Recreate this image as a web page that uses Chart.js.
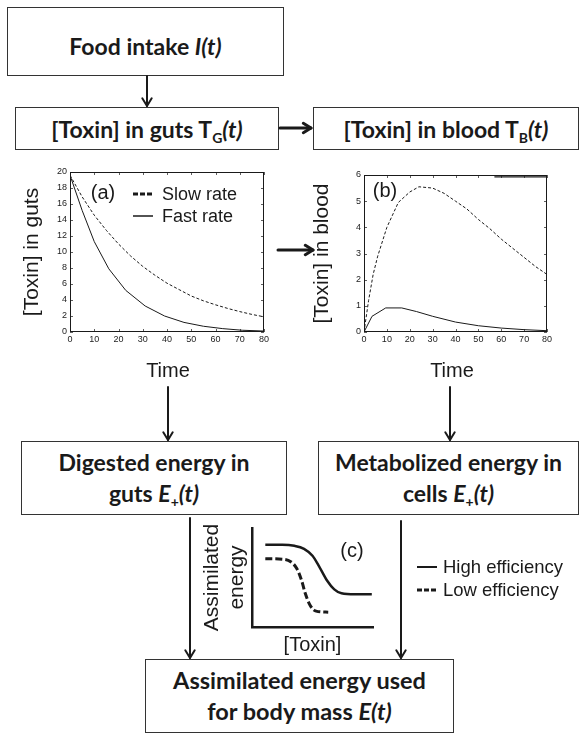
<!DOCTYPE html>
<html><head><meta charset="utf-8">
<script src="https://cdn.jsdelivr.net/npm/chart.js@4.4.0/dist/chart.umd.min.js"></script>
<style>
html,body{margin:0;padding:0;background:#fff;}
body{width:579px;height:733px;position:relative;overflow:hidden;font-family:"Liberation Sans",Arial,sans-serif;color:#1a1a1a;}
.box{position:absolute;border:1.3px solid #333;box-sizing:border-box;display:flex;flex-direction:column;align-items:center;justify-content:center;font-family:Lato,"Open Sans",sans-serif;font-weight:700;font-size:23px;line-height:31px;color:#1a1a1a;text-align:center;white-space:nowrap;}
.box sub{font-size:14px;vertical-align:-5px;line-height:0;font-style:normal;}
.lbl{position:absolute;white-space:nowrap;transform:translate(-50%,-50%);font-family:"Liberation Sans",Arial,sans-serif;color:#1a1a1a;}
.leg{position:absolute;white-space:nowrap;transform:translateY(-50%);font-family:"Liberation Sans",Arial,sans-serif;color:#1a1a1a;}
canvas{position:absolute;}
svg{position:absolute;left:0;top:0;}
</style></head>
<body>
<div class="box" style="left:7px;top:7px;width:277px;height:69px;padding-top:9px;"><span>Food intake <i>I(t)</i></span></div>
<div class="box" style="left:15px;top:107px;width:264px;height:43px;padding-top:2px;"><span>[Toxin] in guts T<sub>G</sub><i>(t)</i></span></div>
<div class="box" style="left:313px;top:107px;width:266px;height:43px;padding-top:2px;"><span>[Toxin] in blood T<sub>B</sub><i>(t)</i></span></div>
<div class="box" style="left:21px;top:441px;width:266px;height:74px;"><span>Digested energy in</span><span>guts <i>E<sub>+</sub>(t)</i></span></div>
<div class="box" style="left:318px;top:441px;width:261px;height:74px;"><span>Metabolized energy in</span><span>cells <i>E<sub>+</sub>(t)</i></span></div>
<div class="box" style="left:145px;top:659px;width:309px;height:74px;font-size:23.5px;"><span>Assimilated energy used</span><span>for body mass <i>E(t)</i></span></div>

<canvas id="ca" width="290" height="200" style="left:0;top:160px;width:290px;height:200px;"></canvas>
<canvas id="cb" width="289" height="200" style="left:290px;top:160px;width:289px;height:200px;"></canvas>
<canvas id="cc" width="220" height="150" style="left:180px;top:510px;width:220px;height:150px;"></canvas>

<div class="lbl" style="left:168px;top:370px;font-size:20px;">Time</div>
<div class="lbl" style="left:452px;top:370px;font-size:20px;">Time</div>
<div class="lbl" style="left:103px;top:192px;font-size:20px;">(a)</div>
<div class="lbl" style="left:385px;top:190px;font-size:20px;">(b)</div>
<div class="lbl" style="left:352px;top:550px;font-size:20px;">(c)</div>
<div class="leg" style="left:162px;top:194px;font-size:18px;">Slow rate</div>
<div class="leg" style="left:162px;top:216px;font-size:18px;">Fast rate</div>
<div class="leg" style="left:443px;top:567px;font-size:18.5px;">High efficiency</div>
<div class="leg" style="left:443px;top:590px;font-size:18.5px;">Low efficiency</div>

<svg width="579" height="733" viewBox="0 0 579 733">
 <g stroke="#1a1a1a" fill="none" stroke-width="2">
  <line x1="133" y1="194" x2="153" y2="194" stroke-width="3" stroke-dasharray="5,2"/>
  <line x1="133" y1="216" x2="153" y2="216" stroke-width="1.5"/>
  <line x1="417" y1="567" x2="437" y2="567" stroke-width="2"/>
  <line x1="417" y1="590" x2="437" y2="590" stroke-width="3" stroke-dasharray="5,2"/>
 </g>
 <g id="arrows" stroke="#1a1a1a" fill="none" stroke-width="2" stroke-linecap="round" stroke-linejoin="round"></g>
</svg>

<script>
// ---------- data ----------
const timeTicks = [0, 10, 20, 30, 40, 50, 60, 70, 80];
const gutsSlowTime = [0, 5, 10, 15, 20, 25, 30, 35, 40, 45, 50, 55, 60, 65, 70, 75, 80];
const gutsSlow = [19.6, 16.9, 14.6, 12.7, 11.0, 9.5, 8.2, 7.1, 6.1, 5.3, 4.5, 3.9, 3.4, 2.95, 2.55, 2.2, 1.9];
const gutsFastTime = [0, 5, 10, 16, 23, 31, 39, 47, 55, 63, 71, 80];
const gutsFast = [19.6, 15.2, 11.3, 7.9, 5.2, 3.25, 2.0, 1.2, 0.72, 0.42, 0.22, 0.12];
const bloodSlowTime = [0, 2, 4, 6, 10, 15, 20, 24, 30, 35, 40, 45, 50, 55, 60, 65, 70, 75, 80];
const bloodSlow = [0, 1.2, 2.2, 2.9, 4.0, 4.95, 5.35, 5.55, 5.5, 5.3, 5.0, 4.7, 4.3, 3.95, 3.55, 3.2, 2.85, 2.5, 2.2];
const bloodFastTime = [0, 3.5, 9.5, 16.5, 23, 30, 40, 50, 60, 70, 80];
const bloodFast = [0, 0.6, 0.92, 0.92, 0.78, 0.6, 0.38, 0.24, 0.15, 0.09, 0.05];
const bloodLegendTime = [57, 80];
const bloodLegend = [5.93, 5.93];
const toxinLevel = [1.1, 2.5, 3.5, 4.3, 5.0, 5.6, 6.2, 6.8, 7.4, 8.5, 9.9];
const energyHigh = [8.3, 8.3, 8.2, 7.9, 7.2, 6.0, 4.7, 3.8, 3.4, 3.3, 3.3];
const toxinLevelLow = [1.1, 2.5, 3.2, 3.7, 4.1, 4.4, 4.8, 5.3, 6.3];
const energyLow = [6.9, 6.85, 6.6, 5.9, 4.7, 3.4, 2.2, 1.6, 1.5];

const pts = (xs, ys) => xs.map((x, i) => ({x, y: ys[i]}));
const INK = '#1a1a1a';

// frame + inward ticks plugin
const framePlugin = {
  id: 'frame',
  afterDraw(chart, args, opts) {
    if (!opts.on) return;
    const {ctx, chartArea: a, scales} = chart;
    ctx.save();
    ctx.strokeStyle = INK; ctx.lineWidth = 1;
    ctx.strokeRect(a.left + 0.5, a.top + 0.5, a.right - a.left - 1, a.bottom - a.top - 1);
    ctx.lineWidth = 0.7;
    ctx.beginPath();
    scales.x.ticks.forEach(t => {
      const px = Math.round(scales.x.getPixelForValue(t.value)) + 0.5;
      ctx.moveTo(px, a.bottom); ctx.lineTo(px, a.bottom - 3);
      ctx.moveTo(px, a.top); ctx.lineTo(px, a.top + 3);
    });
    scales.y.ticks.forEach(t => {
      const py = Math.round(scales.y.getPixelForValue(t.value)) + 0.5;
      ctx.moveTo(a.left, py); ctx.lineTo(a.left + 3, py);
      ctx.moveTo(a.right, py); ctx.lineTo(a.right - 3, py);
    });
    ctx.stroke();
    ctx.restore();
  }
};

function timeChart(id, yMax, yStep, yTitle, pad, axisW, datasets) {
  return new Chart(document.getElementById(id), {
    type: 'line',
    data: {datasets},
    plugins: [framePlugin],
    options: {
      responsive: false, animation: false, devicePixelRatio: 1,
      layout: {padding: pad},
      plugins: {legend: {display: false}, tooltip: {enabled: false}, frame: {on: true}},
      elements: {point: {radius: 0}, line: {tension: 0}},
      scales: {
        x: {type: 'linear', min: 0, max: 80,
            afterBuildTicks: s => { s.ticks = timeTicks.map(v => ({value: v})); },
            grid: {display: false, drawTicks: false}, border: {display: false},
            ticks: {padding: 2, color: '#222', font: {family: 'Liberation Sans', size: 9}, maxRotation: 0},
            afterFit: s => { s.height = 28; }},
        y: {type: 'linear', min: 0, max: yMax,
            grid: {display: false, drawTicks: false}, border: {display: false},
            ticks: {stepSize: yStep, padding: 3, color: '#222', font: {family: 'Liberation Sans', size: 9}},
            title: {display: true, text: yTitle, color: INK, font: {family: 'Liberation Sans', size: 21, lineHeight: 1.2}, padding: {top: 20, bottom: 0}},
            afterFit: s => { s.width = axisW; }}
      }
    }
  });
}

timeChart('ca', 20, 2, '[Toxin] in guts', {top: 12, right: 26, left: 0, bottom: 0}, 70, [
  {data: pts(gutsSlowTime, gutsSlow), borderColor: INK, borderWidth: 1, borderDash: [3, 2]},
  {data: pts(gutsFastTime, gutsFast), borderColor: INK, borderWidth: 1}
]);
timeChart('cb', 6, 1, '[Toxin] in blood', {top: 15, right: 32, left: 0, bottom: 0}, 74, [
  {data: pts(bloodSlowTime, bloodSlow), borderColor: INK, borderWidth: 1, borderDash: [3, 2]},
  {data: pts(bloodFastTime, bloodFast), borderColor: INK, borderWidth: 1},
  {data: pts(bloodLegendTime, bloodLegend), borderColor: INK, borderWidth: 1.2}
]);

new Chart(document.getElementById('cc'), {
  type: 'line',
  data: {datasets: [
    {data: pts(toxinLevel, energyHigh), borderColor: INK, borderWidth: 2.5, cubicInterpolationMode: 'monotone'},
    {data: pts(toxinLevelLow, energyLow), borderColor: INK, borderWidth: 3, borderDash: [7, 3], cubicInterpolationMode: 'monotone'}
  ]},
  options: {
    responsive: false, animation: false, devicePixelRatio: 1,
    layout: {padding: {top: 18, right: 27, left: 0, bottom: 0}},
    plugins: {legend: {display: false}, tooltip: {enabled: false}},
    elements: {point: {radius: 0}},
    scales: {
      x: {type: 'linear', min: 0, max: 10, grid: {display: false, drawTicks: false},
          border: {display: true, width: 2.5, color: INK}, ticks: {display: false},
          title: {display: true, text: '[Toxin]', color: INK, font: {family: 'Liberation Sans', size: 20, lineHeight: 1.2}, padding: {top: 0, bottom: 3}},
          afterFit: s => { s.height = 33; }},
      y: {type: 'linear', min: 0, max: 10, grid: {display: false, drawTicks: false},
          border: {display: true, width: 2.5, color: INK}, ticks: {display: false},
          title: {display: true, text: ['Assimilated', 'energy'], color: INK, font: {family: 'Liberation Sans', size: 21, lineHeight: 1.2}, padding: {top: 19.5, bottom: 0}},
          afterFit: s => { s.width = 72; }}
    }
  }
});

// ---------- arrows ----------
const arrows = [
  [147, 76, 147, 106, 2],
  [280, 128, 311, 128, 3],
  [278, 250, 313, 250, 3],
  [168, 387, 168, 440, 2],
  [450, 387, 450, 440, 2],
  [190, 518, 190, 658, 2],
  [401, 521, 401, 658, 2]
];
const g = document.getElementById('arrows');
const NS = 'http://www.w3.org/2000/svg';
arrows.forEach(([x1, y1, x2, y2, w]) => {
  const l = document.createElementNS(NS, 'line');
  l.setAttribute('x1', x1); l.setAttribute('y1', y1); l.setAttribute('x2', x2); l.setAttribute('y2', y2);
  l.setAttribute('stroke-width', w);
  g.appendChild(l);
  const ang = Math.atan2(y2 - y1, x2 - x1), L = 9, A = 0.55;
  const p = document.createElementNS(NS, 'polyline');
  const ax = x2 - L * Math.cos(ang - A), ay = y2 - L * Math.sin(ang - A);
  const bx = x2 - L * Math.cos(ang + A), by = y2 - L * Math.sin(ang + A);
  p.setAttribute('points', `${ax},${ay} ${x2},${y2} ${bx},${by}`);
  p.setAttribute('stroke-width', w);
  g.appendChild(p);
});
</script>
</body></html>
